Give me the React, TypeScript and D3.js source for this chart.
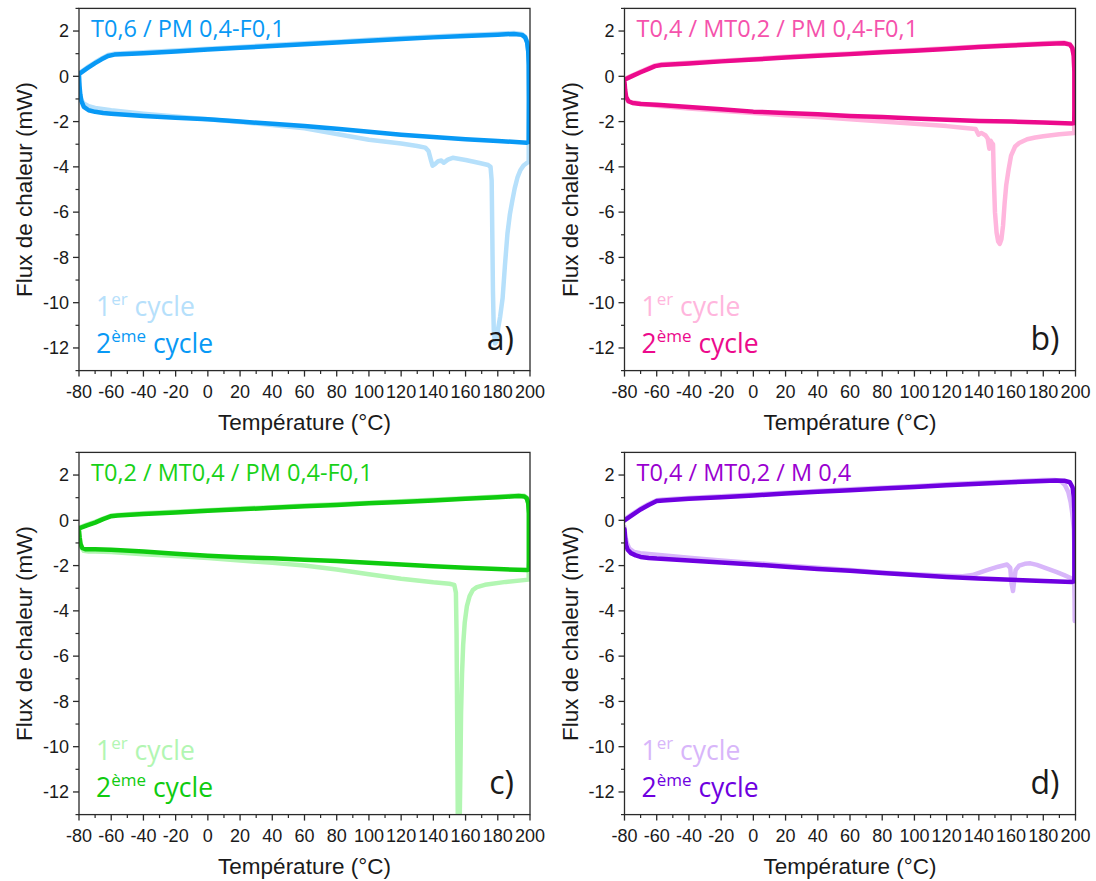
import React from 'react';
import * as d3 from 'd3';

type Pt = [number, number];

// ---------- axis ticks ----------
const xMajorTicks = [-80, -60, -40, -20, 0, 20, 40, 60, 80, 100, 120, 140, 160, 180, 200];
const xMinorTicks = [-70, -50, -30, -10, 10, 30, 50, 70, 90, 110, 130, 150, 170, 190];
const yMajorTicks = [2, 0, -2, -4, -6, -8, -10, -12];
const yMinorTicks = [3, 1, -1, -3, -5, -7, -9, -11, -13];
const xDomain: [number, number] = [-80, 200];
const yDomain: [number, number] = [-13, 3];

const xLabel = 'Température (°C)';
const yLabel = 'Flux de chaleur (mW)';

// ---------- panel titles ----------
const titles = ['T0,6 / PM 0,4-F0,1', 'T0,4 / MT0,2 / PM 0,4-F0,1', 'T0,2 / MT0,4 / PM 0,4-F0,1', 'T0,4 / MT0,2 / M 0,4'];
const letters = ['a)', 'b)', 'c)', 'd)'];

// ---------- panel a ----------
const a2: Pt[] = [
  [-80, 0.05], [-79.7, -0.4], [-79.2, -0.8], [-78.5, -1.1], [-77, -1.35], [-74, -1.5], [-70, -1.57], [-65, -1.62],
  [-60, -1.65], [-40, -1.75], [-20, -1.83], [0, -1.9], [20, -2.0], [40, -2.1], [60, -2.2], [80, -2.32], [100, -2.45],
  [120, -2.58], [140, -2.68], [160, -2.78], [180, -2.86], [198, -2.93], [199.2, -2.9],
  [199.3, -1.0], [199.2, 0.5], [198.9, 1.1], [198.2, 1.5], [197, 1.72], [195, 1.83], [190, 1.87], [185, 1.86],
  [180, 1.84], [160, 1.78], [140, 1.72], [120, 1.65], [100, 1.57], [80, 1.49], [60, 1.42], [40, 1.34], [20, 1.26],
  [0, 1.18], [-20, 1.1], [-40, 1.02], [-58, 0.96], [-62, 0.9], [-66, 0.75], [-70, 0.58], [-75, 0.35], [-80, 0.1],
];
const a1: Pt[] = [
  [-80, -0.3], [-79.5, -0.8], [-78.5, -1.05], [-77, -1.2], [-74, -1.32], [-70, -1.4], [-60, -1.5], [-40, -1.65],
  [-20, -1.78], [0, -1.9], [20, -2.02], [40, -2.15], [60, -2.3], [80, -2.55], [100, -2.8], [120, -2.97], [130, -3.08],
  [135, -3.15], [137, -3.3], [138.5, -3.7], [139.5, -3.95], [141, -3.88], [143, -3.75], [145, -3.72], [146.5, -3.82],
  [149, -3.68], [152, -3.6], [160, -3.7], [168, -3.82], [174, -3.92], [175.5, -4.0], [176.2, -4.6], [176.6, -7],
  [177, -9.5], [177.5, -11.2], [178.3, -11.8], [179.3, -11.7], [180.3, -11.1], [181.5, -10.6], [183, -9.8],
  [184.5, -8.3], [186, -6.95], [187.5, -6.1], [189, -5.5], [190.5, -4.95], [192.3, -4.45], [194, -4.15], [196, -3.94],
  [198, -3.83], [199.2, -3.78],
  [199.3, -1.0], [199.2, 0.5], [198.9, 1.12], [198.2, 1.53], [197, 1.76], [195, 1.87], [190, 1.91], [185, 1.9],
  [180, 1.88], [160, 1.82], [140, 1.76], [120, 1.69], [100, 1.61], [80, 1.53], [60, 1.46], [40, 1.38], [20, 1.3],
  [0, 1.22], [-20, 1.14], [-40, 1.06], [-58, 1.0], [-62, 0.94], [-66, 0.79], [-70, 0.62], [-75, 0.39], [-80, 0.14],
];

// ---------- panel b ----------
const b2: Pt[] = [
  [-80, -0.25], [-79.6, -0.6], [-79, -0.9], [-77.5, -1.1], [-75, -1.18], [-70, -1.22], [-60, -1.26], [-40, -1.36],
  [-20, -1.46], [0, -1.56], [20, -1.62], [40, -1.68], [60, -1.75], [80, -1.8], [100, -1.86], [120, -1.92],
  [140, -1.97], [160, -2.0], [180, -2.04], [198, -2.08], [199.2, -2.06],
  [199.3, -1.5], [199.3, 0.2], [198.9, 0.9], [198, 1.25], [196.5, 1.4], [193, 1.46], [188, 1.45],
  [180, 1.43], [160, 1.36], [140, 1.29], [120, 1.21], [100, 1.13], [80, 1.06], [60, 0.98], [40, 0.91], [20, 0.83],
  [0, 0.74], [-20, 0.66], [-40, 0.57], [-57, 0.5], [-61, 0.45], [-65, 0.33], [-70, 0.18], [-75, 0.02], [-80, -0.15],
];
const b1: Pt[] = [
  [-80, -0.5], [-79.5, -0.9], [-78, -1.1], [-75, -1.15], [-70, -1.2], [-60, -1.3], [-40, -1.42], [-20, -1.52],
  [0, -1.62], [20, -1.72], [40, -1.8], [60, -1.9], [80, -2.0], [100, -2.1], [120, -2.2], [130, -2.27], [138, -2.33],
  [139.8, -2.58], [141.5, -2.5], [144, -2.6], [145.5, -2.75], [146.5, -3.2], [147.3, -2.85], [148.2, -2.95],
  [148.8, -3.0], [149.3, -4.5], [150, -6], [151, -6.9], [152, -7.3], [153, -7.4], [154, -7.2], [155, -6.6],
  [156, -5.6], [157, -4.8], [158.5, -4.1], [160, -3.5], [162.5, -3.1], [165, -2.95], [170, -2.78], [175, -2.7],
  [180, -2.65], [190, -2.56], [199.2, -2.5],
  [199.3, -1.5], [199.3, 0.23], [198.9, 0.93], [198, 1.28], [196.5, 1.43], [193, 1.49], [188, 1.48],
  [180, 1.46], [160, 1.39], [140, 1.32], [120, 1.24], [100, 1.16], [80, 1.09], [60, 1.01], [40, 0.94], [20, 0.86],
  [0, 0.77], [-20, 0.69], [-40, 0.6], [-57, 0.53], [-61, 0.48], [-65, 0.36], [-70, 0.21], [-75, 0.05], [-80, -0.12],
];

// ---------- panel c ----------
const c2: Pt[] = [
  [-80, -0.45], [-79.6, -0.75], [-79, -1.05], [-78, -1.22], [-76, -1.28], [-70, -1.28], [-60, -1.3], [-40, -1.38],
  [-20, -1.48], [0, -1.57], [20, -1.63], [40, -1.68], [60, -1.74], [80, -1.8], [100, -1.87], [120, -1.95],
  [140, -2.03], [160, -2.1], [180, -2.15], [198, -2.2], [199.2, -2.18],
  [199.3, -1.8], [199.3, 0.3], [198.9, 0.75], [198, 0.97], [196.5, 1.05], [193, 1.07], [188, 1.05],
  [180, 1.02], [160, 0.95], [140, 0.88], [120, 0.81], [100, 0.75], [80, 0.68], [60, 0.62], [40, 0.55], [20, 0.49],
  [0, 0.42], [-20, 0.35], [-40, 0.28], [-56, 0.21], [-60, 0.18], [-65, 0.05], [-70, -0.1], [-75, -0.22], [-80, -0.36],
];
const c1: Pt[] = [
  [-80, -0.8], [-79, -1.15], [-77, -1.35], [-74, -1.38], [-70, -1.38], [-60, -1.4], [-40, -1.5], [-20, -1.58],
  [0, -1.67], [20, -1.78], [40, -1.88], [60, -2.0], [80, -2.17], [100, -2.38], [120, -2.58], [140, -2.74],
  [150, -2.8], [153, -2.85], [154, -3.2], [154.4, -5], [154.8, -9], [155.2, -13.5], [156.3, -13.5], [156.8, -11],
  [157.2, -8.5], [157.8, -6.8], [158.5, -5.5], [159.5, -4.5], [160.8, -3.8], [162.5, -3.35], [164.5, -3.08],
  [167, -2.95], [172, -2.85], [185, -2.72], [199.2, -2.62],
  [199.3, -1.8], [199.3, 0.33], [198.9, 0.78], [198, 1.0], [196.5, 1.08], [193, 1.1], [188, 1.08],
  [180, 1.05], [160, 0.98], [140, 0.91], [120, 0.84], [100, 0.78], [80, 0.71], [60, 0.65], [40, 0.58], [20, 0.52],
  [0, 0.45], [-20, 0.38], [-40, 0.31], [-56, 0.24], [-60, 0.21], [-65, 0.08], [-70, -0.07], [-75, -0.19], [-80, -0.33],
];

// ---------- panel d ----------
const d2: Pt[] = [
  [-80, -0.4], [-79.6, -0.8], [-79, -1.1], [-78, -1.3], [-76, -1.45], [-73, -1.55], [-70, -1.62], [-65, -1.66],
  [-60, -1.69], [-40, -1.77], [-20, -1.86], [0, -1.95], [20, -2.05], [40, -2.15], [60, -2.23], [80, -2.33],
  [100, -2.42], [120, -2.5], [140, -2.57], [160, -2.63], [180, -2.68], [198, -2.72], [199.2, -2.7],
  [199.3, -2.5], [199.3, 0.3], [199, 1.0], [198.2, 1.45], [196.5, 1.68], [193, 1.75], [188, 1.76],
  [180, 1.74], [160, 1.68], [140, 1.62], [120, 1.55], [100, 1.47], [80, 1.4], [60, 1.33], [40, 1.26], [20, 1.18],
  [0, 1.1], [-20, 1.02], [-40, 0.95], [-56, 0.88], [-60, 0.85], [-65, 0.68], [-70, 0.48], [-75, 0.24], [-80, 0.0],
];
const d1: Pt[] = [
  [-80, -0.3], [-79.5, -0.7], [-78.5, -1.0], [-77, -1.25], [-74, -1.4], [-70, -1.45], [-60, -1.52], [-40, -1.65],
  [-20, -1.78], [0, -1.88], [20, -2.0], [40, -2.1], [60, -2.2], [80, -2.3], [100, -2.38], [120, -2.45], [130, -2.47],
  [136, -2.42], [145, -2.2], [152, -2.05], [157.5, -1.95], [159.5, -2.1], [160.3, -2.8], [161.2, -3.12],
  [161.9, -2.7], [162.8, -2.2], [165, -2.0], [168.5, -1.92], [172, -1.9], [176, -1.97], [182, -2.12], [188, -2.28],
  [193, -2.42], [197, -2.55], [199.2, -2.65], [199.4, -3.5], [199.5, -4.45],
  [199.5, -3], [199.4, -1.5], [199, -0.4], [198, 0.3], [197, 0.8], [195.5, 1.25], [193.5, 1.55], [191, 1.72], [187, 1.78],
  [180, 1.78], [160, 1.72], [140, 1.66], [120, 1.59], [100, 1.51], [80, 1.44], [60, 1.37], [40, 1.3], [20, 1.22],
  [0, 1.14], [-20, 1.06], [-40, 0.99], [-56, 0.92], [-60, 0.89], [-65, 0.72], [-70, 0.52], [-75, 0.28], [-80, 0.04],
];

// ---------- colours ----------
const darkColors = ['#0899f5', '#ec0a8c', '#0fcb0f', '#6e00e0'];
const lightColors = ['#b6e0fb', '#ffb6dd', '#b2f6b2', '#d8b6fa'];
const titleColors = ['#0899f5', '#f552ac', '#18d118', '#9a00d0'];

const series1 = [a1, b1, c1, d1];
const series2 = [a2, b2, c2, d2];

const PW = 451;
const PH = 362.2;
const layout = [
  { left: 79, top: 8.4 },
  { left: 624.5, top: 8.4 },
  { left: 79, top: 452.4 },
  { left: 624.5, top: 452.4 },
];

const tickFont = '"Liberation Sans", Arial, sans-serif';
const textFont = '"Open Sans", "Noto Sans", sans-serif';

function Panel({ i }: { i: number }) {
  const { left, top } = layout[i];
  const x = d3.scaleLinear().domain(xDomain).range([left, left + PW]);
  const y = d3.scaleLinear().domain(yDomain).range([top + PH, top]);
  const line = d3.line<Pt>().x((d) => x(d[0])).y((d) => y(d[1]));
  const clipId = `clip-${i}`;
  const bottom = top + PH;
  const right = left + PW;
  const axisColor = '#2a2a2a';
  return (
    <g>
      <defs>
        <clipPath id={clipId}>
          <rect x={left} y={top} width={PW} height={PH} />
        </clipPath>
      </defs>
      <g clipPath={`url(#${clipId})`}>
        <path d={line(series1[i]) || ''} fill="none" stroke={lightColors[i]} strokeWidth={4.5} strokeLinejoin="round" strokeLinecap="round" />
        <path d={line(series2[i]) || ''} fill="none" stroke={darkColors[i]} strokeWidth={4.5} strokeLinejoin="round" strokeLinecap="round" />
      </g>
      {/* frame */}
      <rect x={left} y={top} width={PW} height={PH} fill="none" stroke={axisColor} strokeWidth={1.3} />
      {/* x ticks */}
      {xMajorTicks.map((t) => (
        <g key={`xm${t}`}>
          <line x1={x(t)} x2={x(t)} y1={bottom} y2={bottom + 6} stroke={axisColor} strokeWidth={1.3} />
          <text x={x(t)} y={bottom + 27} textAnchor="middle" fontFamily={tickFont} fontSize={18} fill="#1a1a1a">{t}</text>
        </g>
      ))}
      {xMinorTicks.map((t) => (
        <line key={`xn${t}`} x1={x(t)} x2={x(t)} y1={bottom} y2={bottom + 3.5} stroke={axisColor} strokeWidth={1.2} />
      ))}
      {/* y ticks */}
      {yMajorTicks.map((t) => (
        <g key={`ym${t}`}>
          <line x1={left - 6} x2={left} y1={y(t)} y2={y(t)} stroke={axisColor} strokeWidth={1.3} />
          <text x={left - 10} y={y(t)} dy="0.35em" textAnchor="end" fontFamily={tickFont} fontSize={18} fill="#1a1a1a">{t}</text>
        </g>
      ))}
      {yMinorTicks.map((t) => (
        <line key={`yn${t}`} x1={left - 3.5} x2={left} y1={y(t)} y2={y(t)} stroke={axisColor} strokeWidth={1.2} />
      ))}
      {/* axis titles */}
      <text x={(left + right) / 2} y={bottom + 59} textAnchor="middle" fontFamily={tickFont} fontSize={22.5} fill="#1a1a1a">{xLabel}</text>
      <text transform={`translate(${left - 47},${(top + bottom) / 2}) rotate(-90)`} textAnchor="middle" fontFamily={tickFont} fontSize={22.5} fill="#1a1a1a">{yLabel}</text>
      {/* panel title */}
      <text x={left + 12} y={top + 29} fontFamily={textFont} fontSize={23.5} fill={titleColors[i]}>{titles[i]}</text>
      {/* legend */}
      <text x={left + 17} y={top + 308} fontFamily={textFont} fontSize={26.5} fill={lightColors[i]}>
        1<tspan fontSize={17} dy={-11}>er</tspan><tspan dy={11}> cycle</tspan>
      </text>
      <text x={left + 17} y={top + 345} fontFamily={textFont} fontSize={26.5} fill={darkColors[i]}>
        2<tspan fontSize={17} dy={-11}>ème</tspan><tspan dy={11}> cycle</tspan>
      </text>
      {/* panel letter */}
      <text x={right - 16} y={top + 342} textAnchor="end" fontFamily={textFont} fontSize={32} fill="#1a1a1a">{letters[i]}</text>
    </g>
  );
}

export default function App() {
  return (
    <svg width={1096} height={881} style={{ position: 'absolute', left: 0, top: 0, background: '#fff' }}>
      <rect x={0} y={0} width={1096} height={881} fill="#fff" />
      {[0, 1, 2, 3].map((i) => (
        <Panel key={i} i={i} />
      ))}
    </svg>
  );
}
